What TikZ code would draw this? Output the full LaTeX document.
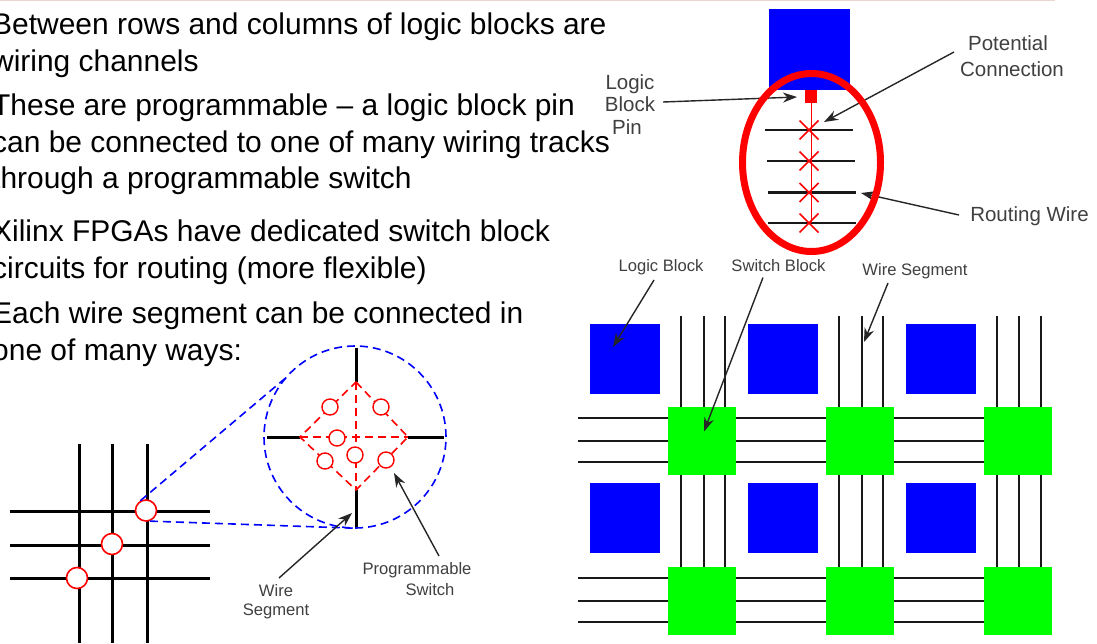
\documentclass[tikz,border=0pt]{standalone}
\usepackage{fontspec}
\setmainfont{Liberation Sans}
\usepackage{tikz}
\usetikzlibrary{arrows.meta,shapes.geometric}
\definecolor{topline}{RGB}{235,215,205}
\tikzset{
  bullettext/.style={anchor=west, align=left, inner sep=0pt, font=\fontsize{29.95}{36.7}\selectfont},
  biglabel/.style={align=center, inner sep=0pt, text=black!75, font=\fontsize{20.5}{26}\selectfont},
  tinylabel/.style={align=center, inner sep=0pt, text=black!75, font=\fontsize{16.6}{21}\selectfont},
  wire/.style={line width=3pt, black},
  thinwire/.style={line width=2.2pt, black!90},
  pointer/.style={-{Stealth[length=14pt,width=10pt]}, line width=1.4pt, black!85},
  bluedash/.style={blue, line width=1.6pt, dash pattern=on 8pt off 5pt},
  reddash/.style={red, line width=1.6pt, dash pattern=on 8pt off 5pt},
  switchring/.style={circle, draw=red, fill=white, line width=1.6pt, minimum size=21pt, inner sep=0pt},
  tinyring/.style={circle, draw=red, fill=white, line width=1.4pt, minimum size=16pt, inner sep=0pt},
  logicblock/.style={fill=blue, minimum width=70pt, minimum height=70pt, inner sep=0pt},
  switchblock/.style={fill=green, minimum width=68pt, minimum height=68pt, inner sep=0pt},
}
\begin{document}
\begin{tikzpicture}[x=1pt,y=-1pt]
  \useasboundingbox (0,0) rectangle (1097,643);
  \fill[white] (0,0) rectangle (1097,643);
  \draw[topline, line width=1pt] (0,0.5) -- (1055,0.5);
  % text on the left
  \node[bullettext] (para1) at (-8,45.5) {Between rows and columns of logic blocks are\\wiring channels};
  \node[bullettext] (para2) at (-8,144.5) {These are programmable -- a logic block pin\\can be connected to one of many wiring tracks\\through a programmable switch};
  \node[bullettext] (para3) at (-8,252) {Xilinx FPGAs have dedicated switch block\\circuits for routing (more flexible)};
  \node[bullettext] (para4) at (-8,334.5) {Each wire segment can be connected in\\one of many ways:};
  % crossing wires, bottom left
  \foreach \x in {79,112,147} \draw[wire] (\x,444) -- (\x,643);
  \foreach \y in {511,545,578} \draw[wire] (10,\y) -- (210,\y);
  \node[switchring] (ring1) at (146,510.5) {};
  \node[switchring] (ring2) at (112,544) {};
  \node[switchring] (ring3) at (77,578) {};
  % magnified switch
  \node[circle, draw=none, minimum size=182pt, inner sep=0pt] (lens) at (355,437) {};
  \draw[bluedash] (lens.center) circle (91pt);
  \draw[bluedash] (ring1.120) -- (lens.140);
  \draw[bluedash] (ring1.-70) -- (lens.270);
  \coordinate (swN) at (356,382);
  \coordinate (swS) at (356,490);
  \coordinate (swW) at (300,437);
  \coordinate (swE) at (408,437);
  \draw[wire] (356,348) -- (swN);
  \draw[wire] (swS) -- (356,527);
  \draw[wire] (267,437) -- (swW);
  \draw[wire] (swE) -- (444,437);
  \draw[reddash] (swN) -- (swE) -- (swS) -- (swW) -- cycle;
  \draw[reddash] (swN) -- (swS);
  \draw[reddash] (swW) -- (swE);
  \node[tinyring] (sw1) at (330,407) {};
  \node[tinyring] (sw2) at (381,407) {};
  \node[tinyring] (sw3) at (337,438) {};
  \node[tinyring] (sw4) at (325,461) {};
  \node[tinyring] (sw5) at (355,455) {};
  \node[tinyring] (sw6) at (386,460) {};
  \node[tinylabel] (wireseg) at (276,601.5) {Wire\\[-2pt]Segment};
  \node[tinylabel] (progsw) at (417,579) {Programmable\\\hspace*{26pt}Switch};
  \coordinate (wiresegtail) at (279,578);
  \coordinate (progswtail) at (439,556);
  \draw[pointer] (wiresegtail) -- (352,513);
  \draw[pointer] (progswtail) -- (394,473);
  % top right, the pin and its wires
  \node[logicblock, minimum width=81pt, minimum height=81pt] (topblock) at (809.5,49.5) {};
  \node[fill=red, minimum width=12pt, minimum height=13pt, inner sep=0pt] (pin) at (811,96.5) {};
  \coordinate (pinend) at (811,223);
  \foreach \xa/\y in {765/130,767/161,768/192.5,768/223}
    \draw[thinwire] (\xa,\y) -- (\xa+88,\y);
  \draw[red, line width=1pt] (pin) -- (pinend);
  \foreach \y in {130,161,192.5,223}
    \draw[red, line width=1.6pt] (799.5,\y-9.5) -- (818.5,\y+9.5) (818.5,\y-9.5) -- (799.5,\y+9.5);
  \node[biglabel, font=\fontsize{20.5}{22.2}\selectfont] (pinlabel) at (630,104.5) {Logic\\Block\\Pin\hspace*{6pt}};
  \node[biglabel] (potential) at (1012,56) {Potential\hspace*{8pt}\\Connection};
  \node[biglabel] (routing) at (1029.5,216) {Routing Wire};
  \coordinate (pintail) at (663,102);
  \coordinate (pottail) at (954,52);
  \coordinate (routtail) at (959,215);
  \draw[pointer] (pintail) -- (797,97);
  \draw[pointer] (pottail) -- (824,122);
  \draw[pointer] (routtail) -- (861,193);
  \node[draw=red, line width=7pt, ellipse, minimum width=138pt, minimum height=178pt, inner sep=0pt] (loop) at (811.5,162.5) {};
  % bottom right, the routing grid
  \foreach \x in {681,704,725,839,862,883,997,1019,1041} \draw[thinwire] (\x,315.5) -- (\x,601);
  \foreach \y in {418,441,462,578,601,622} \draw[thinwire] (578,\y) -- (1052,\y);
  \foreach \x/\n in {625/a,783/b,941/c}{
    \node[logicblock] (lb1\n) at (\x,359) {};
    \node[logicblock] (lb2\n) at (\x,518) {};
  }
  \foreach \x/\n in {702/a,860/b,1018/c}{
    \node[switchblock] (sb1\n) at (\x,441) {};
    \node[switchblock] (sb2\n) at (\x,601) {};
  }
  \node[tinylabel] (lblabel) at (661,267) {Logic Block};
  \node[tinylabel] (sblabel) at (778.5,266) {Switch Block};
  \node[tinylabel] (wslabel) at (915,271) {Wire Segment};
  \coordinate (lbtail) at (654,280);
  \coordinate (sbtail) at (763,277.5);
  \coordinate (wstail) at (888,283);
  \draw[pointer] (lbtail) -- (613,347);
  \draw[pointer] (sbtail) -- (704,431.5);
  \draw[pointer] (wstail) -- (864,342);
\end{tikzpicture}
\end{document}
